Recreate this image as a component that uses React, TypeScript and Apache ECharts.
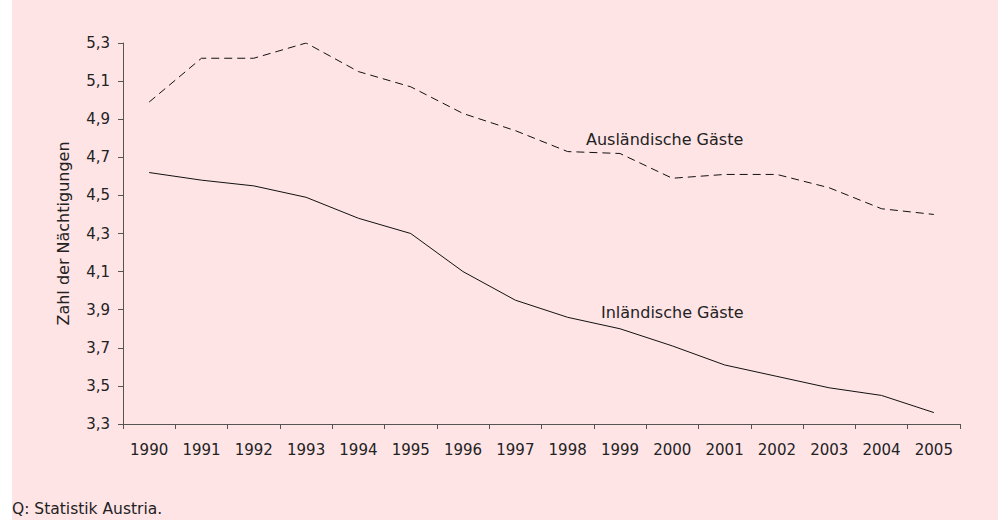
import React, { useEffect, useRef } from "react";
import * as echarts from "echarts";

const years = ["1990","1991","1992","1993","1994","1995","1996","1997","1998","1999","2000","2001","2002","2003","2004","2005"];
const auslaendisch = [4.99, 5.22, 5.22, 5.30, 5.15, 5.07, 4.93, 4.84, 4.73, 4.72, 4.59, 4.61, 4.61, 4.54, 4.43, 4.40];
const inlaendisch = [4.62, 4.58, 4.55, 4.49, 4.38, 4.30, 4.10, 3.95, 3.86, 3.80, 3.71, 3.61, 3.55, 3.49, 3.45, 3.36];
const Y_MIN = 3.3;
const Y_MAX = 5.3;
const Y_STEP = 0.2;

const FONT = "DejaVu Sans";
const TEXT = "#222222";
const AXIS = "#555555";

export default function App() {
  const ref = useRef<HTMLDivElement>(null);
  useEffect(() => {
    if (!ref.current) return;
    const chart = echarts.init(ref.current, null, { renderer: "svg" });
    const shift = (a: number[]) => a.map((v) => +(v - Y_MIN).toFixed(4));
    chart.setOption({
      animation: false,
      backgroundColor: "#ffffff",
      textStyle: { fontFamily: FONT, color: TEXT },
      graphic: [
        { type: "rect", z: -100, silent: true, shape: { x: 12, y: 0, width: 986, height: 520 }, style: { fill: "#FFE4E6" } },
        { type: "text", x: 63, y: 233.5, rotation: Math.PI / 2, style: { text: "Zahl der Nächtigungen", font: `16px ${FONT}`, fill: TEXT, align: "center", verticalAlign: "middle" } },
        { type: "text", x: 586, y: 139, style: { text: "Ausländische Gäste", font: `16px ${FONT}`, fill: TEXT, align: "left", verticalAlign: "middle" } },
        { type: "text", x: 601, y: 312, style: { text: "Inländische Gäste", font: `16px ${FONT}`, fill: TEXT, align: "left", verticalAlign: "middle" } },
        { type: "text", x: 12, y: 509, style: { text: "Q: Statistik Austria.", font: `15.5px ${FONT}`, fill: TEXT, align: "left", verticalAlign: "middle" } },
      ],
      grid: { left: 123, right: 38, top: 43, bottom: 96, containLabel: false },
      xAxis: {
        type: "category",
        data: years,
        boundaryGap: true,
        axisLine: { lineStyle: { color: AXIS, width: 1 } },
        axisTick: { show: true, length: 5, inside: false, lineStyle: { color: AXIS } },
        axisLabel: { color: TEXT, fontSize: 15, fontFamily: FONT, margin: 18 },
        splitLine: { show: false },
      },
      yAxis: {
        type: "value",
        min: 0,
        max: +(Y_MAX - Y_MIN).toFixed(4),
        interval: Y_STEP,
        axisLine: { show: true, lineStyle: { color: AXIS, width: 1 } },
        axisTick: { show: true, length: 5, lineStyle: { color: AXIS } },
        axisLabel: {
          color: TEXT,
          fontSize: 15,
          fontFamily: FONT,
          margin: 13,
          formatter: (v: number) => (v + Y_MIN).toFixed(1).replace(".", ","),
        },
        splitLine: { show: false },
      },
      series: [
        {
          name: "Ausländische Gäste",
          type: "line",
          data: shift(auslaendisch),
          symbol: "none",
          lineStyle: { color: "#111111", width: 1, type: [8, 5] },
        },
        {
          name: "Inländische Gäste",
          type: "line",
          data: shift(inlaendisch),
          symbol: "none",
          lineStyle: { color: "#111111", width: 1 },
        },
      ],
    });
    return () => chart.dispose();
  }, []);
  return (
    <div style={{ position: "fixed", left: 0, top: 0, width: 998, height: 520, background: "#fff" }}>
      <div ref={ref} style={{ width: 998, height: 520 }} />
    </div>
  );
}
